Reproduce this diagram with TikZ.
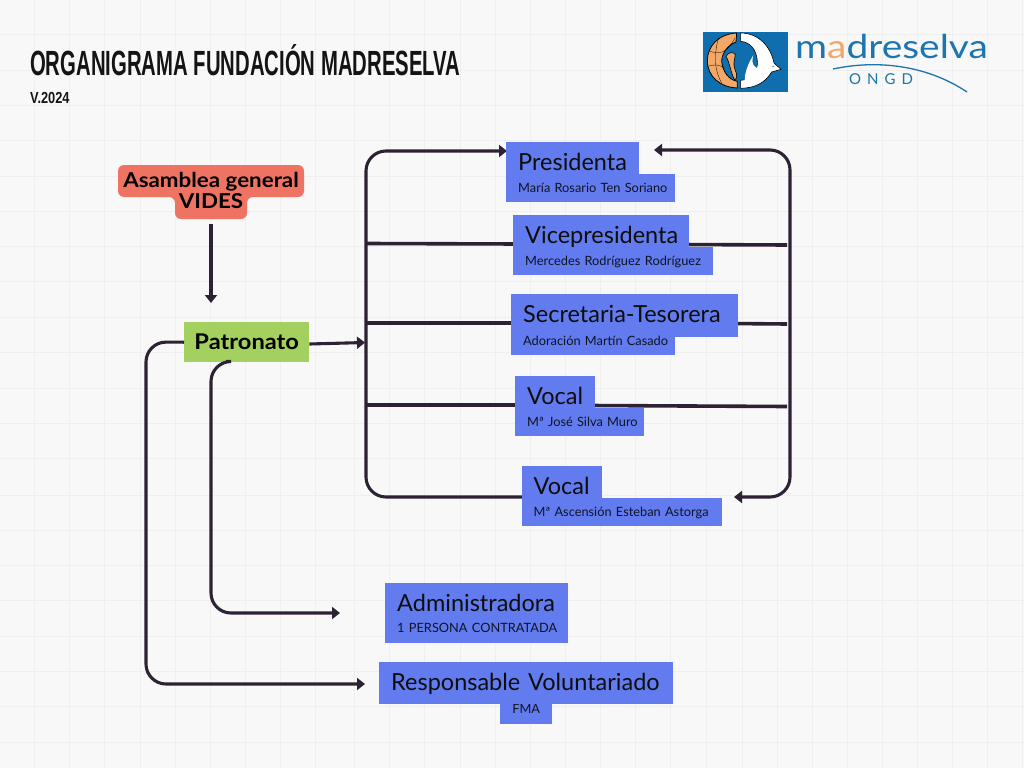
\documentclass[tikz,border=0pt]{standalone}
\usepackage{fontspec}
\usetikzlibrary{arrows.meta}
\setmainfont[WordSpace=0.8]{Lato}
\newfontfamily\ttlfont[FakeStretch=0.58,BoldFont={Liberation Sans Bold}]{Liberation Sans}
\newfontfamily\verfont[FakeStretch=0.8,BoldFont={Liberation Sans Bold}]{Liberation Sans}
\newfontfamily\logofont[FakeStretch=1.18]{Lato}
\newfontfamily\ongdfont[LetterSpace=40]{Lato}
\newfontfamily\labelfont[FakeStretch=1.09]{Lato}
\definecolor{pagebg}{HTML}{F8F8F8}
\definecolor{gridc}{HTML}{EFEFEF}
\definecolor{boxblue}{HTML}{627CF0}
\definecolor{patgreen}{HTML}{A4D05F}
\definecolor{asamred}{HTML}{EE7363}
\definecolor{ink}{HTML}{2D2233}
\definecolor{logoblue}{HTML}{0F6EAE}
\definecolor{logotext}{HTML}{1C75AE}
\definecolor{logoorange}{HTML}{F4A868}
\tikzset{
  titlebox/.style={anchor=north west,fill=boxblue,inner ysep=0pt,inner xsep=12pt,align=left,font=\fontsize{23.5}{24}\selectfont,text=black!95},
  subbox/.style={anchor=north west,fill=boxblue,inner ysep=0pt,inner xsep=12pt,align=left,font=\fontsize{12.8}{13}\selectfont,text=black!85!boxblue},
  plainlabel/.style={inner sep=0pt,font=\labelfont\bfseries\fontsize{20.5}{22}\selectfont,text=black},
  conn/.style={draw=ink,line width=3.1pt,rounded corners=20pt},
  bar/.style={draw=ink,line width=3.6pt},
  tip/.style={-{Triangle[width=12pt,length=8pt]}},
}
\begin{document}
\begin{tikzpicture}[x=1pt,y=-1pt]
\useasboundingbox (0,0) rectangle (1024,768);
\fill[pagebg] (0,0) rectangle (1024,768);
\foreach \gx in {34.3,69.3,104.3,140,175.7,210.7,245.7,280.7,315.7,354.3,389,424.5,460,495,530,565,600,635,670,706,742,777,812,847,882,917,952,987,1022}
  \draw[gridc,line width=1pt] (\gx,0) -- (\gx,768);
\foreach \gy in {35,70.4,105.6,140.8,176,211.2,246.6,281.7,317.5,352.7,388,423,458,495,530,565,600.7,636,671.7,706.7,742}
  \draw[gridc,line width=1pt] (0,\gy) -- (1024,\gy);

% heading
\node[anchor=base west,inner sep=0pt,font=\ttlfont\bfseries\fontsize{35}{36}\selectfont,text=black!92] (ttl) at (30,75) {ORGANIGRAMA FUNDACIÓN MADRESELVA};
\node[anchor=base west,inner sep=0pt,font=\verfont\bfseries\fontsize{16}{17}\selectfont,text=black!92] (ver) at (30,103) {V.2024};

% logo emblem
\fill[logoblue] (703,32) rectangle (787.5,92);
\begin{scope}[shift={(700,28)},x=0.3333pt,y=-0.3333pt]
  \filldraw[fill=logoorange,draw=black,line width=0.8pt]
    (110,15) .. controls (55,18) and (22,55) .. (22,98)
    .. controls (22,145) and (60,178) .. (112,180) -- (112,160)
    .. controls (85,155) and (68,130) .. (65,100)
    .. controls (65,75) and (85,50) .. (108,42) -- cycle;
  \filldraw[fill=logoorange,draw=black,line width=0.6pt]
    (78,85) .. controls (85,72) and (100,70) .. (106,80)
    .. controls (104,95) and (98,105) .. (105,125)
    .. controls (112,140) and (112,150) .. (104,156)
    .. controls (92,135) and (90,105) .. (78,85) -- cycle;
  \draw[black,line width=0.3pt] (30,70) .. controls (60,80) and (80,75) .. (105,30);
  \draw[black,line width=0.3pt] (24,115) .. controls (45,108) and (60,110) .. (72,120);
  \draw[black,line width=0.3pt] (55,30) .. controls (40,90) and (45,130) .. (65,165);
  \filldraw[fill=white,draw=black,line width=0.6pt]
    (122,15) .. controls (175,15) and (212,55) .. (222,105)
    -- (243,124) -- (215,132)
    .. controls (195,165) and (165,180) .. (122,181) -- (122,157)
    .. controls (150,156) and (175,130) .. (172,100)
    .. controls (170,65) and (150,42) .. (122,40) -- cycle;
  \fill[white] (134,168) .. controls (132,140) and (142,110) .. (160,82)
    .. controls (150,110) and (170,125) .. (175,118)
    .. controls (165,150) and (150,160) .. (134,168) -- cycle;
  \fill[logoblue!60!black] (219,116) circle (2);
\end{scope}
% logo lettering
\node[anchor=base west,inner sep=0pt,font=\logofont\fontsize{33}{34}\selectfont,text=logotext] (lg) at (795,59) {m\textcolor{logoorange}{a}dreselva};
\node[anchor=base west,inner sep=0pt,font=\ongdfont\fontsize{15}{16}\selectfont,text=logotext] (ongd) at (849,84) {ONGD};
\draw[logotext,line width=1.3pt] (833,69) .. controls (875,60) and (925,64) .. (967,92);

% red node
\fill[asamred,rounded corners=6pt] (118,165) -- (304,165) -- (304,197) -- (247,197) -- (247,219) -- (175,219) -- (175,197) -- (118,197) -- cycle;
\node[plainlabel,anchor=base] (asam) at (211,187) {Asamblea general};
\node[plainlabel,anchor=base] (vides) at (211,208) {VIDES};
\coordinate (vidend) at (211,224);
\coordinate (patin) at (211,303);

% green node
\node[anchor=north west,fill=patgreen,minimum width=125pt,minimum height=40pt,inner sep=0pt,font=\labelfont\bfseries\fontsize{21.7}{24}\selectfont,text=black] (pat) at (184,322) {Patronato};

% connector free ends
\coordinate (busTL) at (366,151);
\coordinate (busBL) at (366,497);
\coordinate (busTR) at (790,150);
\coordinate (busBR) at (790,497);
\coordinate (busMR) at (790,330);
\coordinate (busin) at (365,342.5);
\coordinate (presin) at (507,151);
\coordinate (presback) at (654,150);
\coordinate (vocback) at (734,497);
\coordinate (admin) at (340,613);
\coordinate (respin) at (365,684);

% connectors behind boxes
\draw[conn,tip] (525,497) -- (busBL) -- (busTL) -- (presin);
\draw[conn,tip] (busMR) -- (busTR) -- (presback);
\draw[conn,tip] (busMR) -- (busBR) -- (vocback);
\draw[bar] (366,243.5) -- (520,244);
\draw[bar] (680,244.5) -- (787,245);
\draw[bar] (366,323) -- (520,323);
\draw[bar] (730,323.5) -- (787,324);
\draw[bar] (366,405) -- (520,405);
\draw[bar] (590,405.5) -- (787,406.5);
\draw[conn,tip,rounded corners=0pt] (pat.east |- 0,344) -- (busin);
\draw[conn,tip] (vidend) -- (patin);
\draw[conn,tip] (pat.west) -- (146,342) -- (146,684) -- (respin);
\draw[conn,tip] (226,361.5) -- (211,361.5) -- (211,613) -- (admin);

% blue boxes: lower strip first, title strip over it
\node[subbox,text width=145pt,text height=18pt,text depth=10pt] (presS) at (506,174) {\mbox{María Rosario Ten Soriano}};
\node[titlebox,text width=109pt,text height=28pt,text depth=5pt] (presT) at (506,142) {\mbox{Presidenta}};
\node[subbox,text width=176pt,text height=18pt,text depth=10pt] (viceS) at (513,247) {\mbox{Mercedes Rodríguez Rodríguez}};
\node[titlebox,text width=152pt,text height=28pt,text depth=4pt] (viceT) at (513,215) {\mbox{Vicepresidenta}};
\node[titlebox,text width=203pt,text height=28pt,text depth=15pt] (secT) at (511,294) {\mbox{Secretaria-Tesorera}};
\node[subbox,text width=140pt,text height=8pt,text depth=10pt] (secS) at (511,337) {\mbox{Adoración Martín Casado}};
\node[subbox,text width=104.5pt,text height=18pt,text depth=10pt] (vocS) at (515,408) {\mbox{Mª José Silva Muro}};
\node[titlebox,text width=56pt,text height=28pt,text depth=4pt] (vocT) at (515,376) {\mbox{Vocal}};
\node[subbox,text width=176pt,text height=18pt,text depth=10pt] (vasS) at (521.5,498) {\mbox{Mª Ascensión Esteban Astorga}};
\node[titlebox,text width=56pt,text height=28pt,text depth=4pt] (vasT) at (521.5,466) {\mbox{Vocal}};
\node[subbox,text width=158.5pt,text height=17pt,text depth=10pt] (admS) at (385,615.5) {\mbox{1 PERSONA CONTRATADA}};
\node[titlebox,text width=158.5pt,text height=28pt,text depth=4.5pt] (admT) at (385,583) {\mbox{Administradora}};
\node[subbox,inner xsep=0pt,align=center,text width=52pt,text height=9.5pt,text depth=10.5pt] (respS) at (500,704) {FMA};
\node[titlebox,text width=270pt,text height=28pt,text depth=14pt] (respT) at (379,662) {\mbox{Responsable Voluntariado}};
\end{tikzpicture}
\end{document}
